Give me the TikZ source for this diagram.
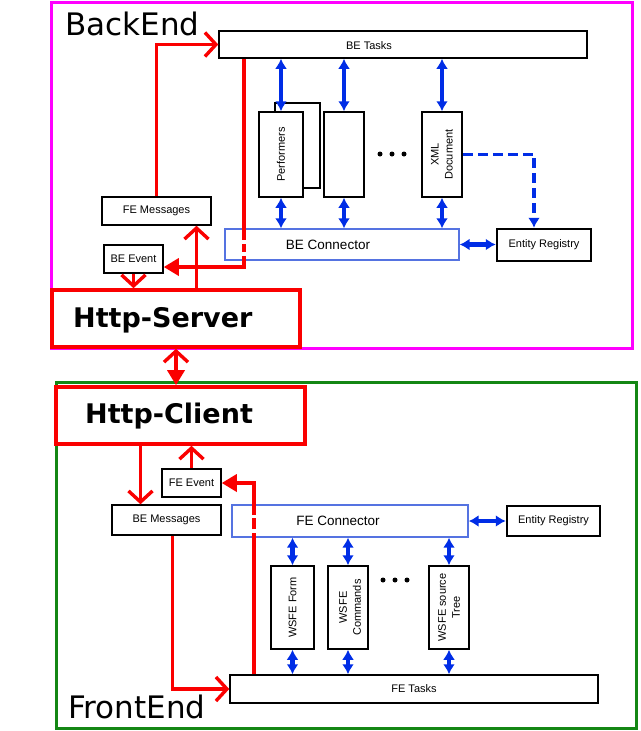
\documentclass[tikz,border=0pt]{standalone}
\usepackage{fontspec}
\setmainfont{Liberation Sans}
\newfontfamily\titlefont{DejaVu Sans}
\usetikzlibrary{arrows.meta,calc}

\definecolor{frameMagenta}{RGB}{255,0,255}
\definecolor{frameGreen}{RGB}{20,135,20}
\definecolor{linkBlue}{RGB}{0,45,230}
\definecolor{connBlue}{RGB}{85,115,225}
\definecolor{msgRed}{RGB}{250,0,0}

\begin{document}
\begin{tikzpicture}[x=1pt,y=1pt,yscale=-1,
    txt/.style={font=\fontsize{11}{14}\selectfont},
    box/.style 2 args={draw,line width=1.5,inner sep=0pt,minimum width=#1,minimum height=#2,txt},
    regbox/.style 2 args={box={#1}{#2},line width=2.5},
    connbox/.style 2 args={box={#1}{#2},draw=connBlue,line width=1.4},
    httpbox/.style 2 args={box={#1}{#2},draw=msgRed,line width=3.6},
    conntxt/.style={font=\fontsize{13.5}{16}\selectfont},
    httptxt/.style={font=\titlefont\bfseries\fontsize{27}{32}\selectfont,inner sep=0pt},
    titletxt/.style={font=\titlefont\fontsize{31}{36}\selectfont,inner sep=0pt},
    bluehead/.tip={Latex[length=10,width=12]},
    openhead/.tip={Straight Barb[length=11,width=24]},
    fullhead/.tip={Triangle[length=15,width=17]},
    blueline/.style={linkBlue,line width=4.4,bluehead-bluehead},
    redline/.style={draw=msgRed,line width=3.4}]
  \useasboundingbox (0,0) rectangle (640,731);

  %Shape: Frame BackEnd
  \draw[frameMagenta,line width=3] (51,2) rectangle (632,348);
  %Shape: Frame FrontEnd
  \draw[frameGreen,line width=3] (56,382) rectangle (636,728);

  % Text Node
  \node[titletxt,anchor=base west] (betitle) at (65,35) {BackEnd};
  \node[titletxt,anchor=base west] (fetitle) at (68,718) {FrontEnd};

  %Shape: BackEnd boxes
  \node[box={368}{27}] (betasks) at (403,44.5) {};
  \node[txt] (betaskstext) at (369,46) {BE Tasks};
  \node[box={45}{85}] (perfback) at (297.5,145.5) {};
  \node[box={44}{85},fill=white] (perf) at (281,154.5) {};
  \node[txt,rotate=90] (perftext) at (perf) {Performers};
  \node[box={40}{85}] (worker) at (344,154.5) {};
  \node[box={40}{85}] (xmldoc) at (442,154.5) {};
  \node[txt,rotate=90,align=center] (xmltext) at (xmldoc) {XML\\Document};
  \node[connbox={234}{31}] (beconn) at (342,244.5) {};
  \node[conntxt] (beconntext) at (328,245) {BE Connector};
  \node[regbox={94}{32}] (beregistry) at (544,245) {Entity Registry};
  \node[box={109}{28}] (femsg) at (156.5,211) {FE Messages};
  \node[box={59}{28}] (beevent) at (133.5,259) {BE Event};
  \node[httpbox={248}{57}] (httpsrv) at (176,318.5) {};
  \node[httptxt,anchor=base west] (httpsrvtext) at (73,327) {Http-Server};
  \foreach \dx in {380,392,404}
    \fill (\dx,154) circle (2.5);

  %Shape: FrontEnd boxes
  \node[httpbox={249}{57}] (httpcli) at (180.5,415.5) {};
  \node[httptxt,anchor=base west] (httpclitext) at (85,423) {Http-Client};
  \node[box={59}{28}] (feevent) at (191.5,483) {FE Event};
  \node[box={109}{30}] (bemsg) at (166.5,520) {BE Messages};
  \node[connbox={236}{32}] (feconn) at (350,521) {};
  \node[conntxt] (feconntext) at (338,521) {FE Connector};
  \node[regbox={93}{30}] (feregistry) at (553.5,521) {Entity Registry};
  \node[box={43}{83}] (wsfeform) at (292.5,607.5) {};
  \node[txt,rotate=90] (wsfeformtext) at (wsfeform) {WSFE Form};
  \node[box={40}{83}] (wsfecmd) at (348,607.5) {};
  \node[txt,rotate=90,align=center] (wsfecmdtext) at (350,607.5) {WSFE\\Commands};
  \node[box={40}{83}] (wsfetree) at (449,607.5) {};
  \node[txt,rotate=90,align=center] (wsfetreetext) at (wsfetree) {WSFE source\\Tree};
  \node[box={368}{28}] (fetasks) at (414,689) {FE Tasks};
  \foreach \dx in {383,395,407}
    \fill (\dx,580) circle (2.5);

  %Straight Lines: blue links BackEnd
  \draw[blueline] (perf.north |- betasks.south) -- (perf.north);
  \draw[blueline] (worker.north |- betasks.south) -- (worker.north);
  \draw[blueline] (xmldoc.north |- betasks.south) -- (xmldoc.north);
  \draw[blueline] (perf.south) -- (perf.south |- beconn.north);
  \draw[blueline] (worker.south) -- (worker.south |- beconn.north);
  \draw[blueline] (xmldoc.south) -- (xmldoc.south |- beconn.north);
  \draw[blueline] (beconn.east) -- (beconn.east -| beregistry.west);
  \draw[linkBlue,line width=3.4,dash pattern=on 10 off 5,-bluehead] (xmldoc.east) -| ($(beregistry.north)+(-10,0)$);

  %Straight Lines: blue links FrontEnd
  \draw[blueline] (feconn.south -| wsfeform.north) -- (wsfeform.north);
  \draw[blueline] (feconn.south -| wsfecmd.north) -- (wsfecmd.north);
  \draw[blueline] (feconn.south -| wsfetree.north) -- (wsfetree.north);
  \draw[blueline] (wsfeform.south) -- (wsfeform.south |- fetasks.north);
  \draw[blueline] (wsfecmd.south) -- (wsfecmd.south |- fetasks.north);
  \draw[blueline] (wsfetree.south) -- (wsfetree.south |- fetasks.north);
  \draw[blueline] (feconn.east) -- (feconn.east -| feregistry.west);

  %Straight Lines: red messages BackEnd
  \coordinate (bedown) at (244,0);
  \coordinate (femsgin) at ($(femsg.south)+(40,0)$);
  \draw[redline,-openhead] (femsg.north) |- (betasks.west);
  \draw[redline] (betasks.south -| bedown) -- (244,240) (244,244) -- (244,252);
  \draw[redline,-fullhead] (244,256) |- ($(beevent.east)+(0,8)$);
  \draw[redline,-openhead] (httpsrv.north -| femsgin) -- (femsgin);
  \draw[redline,-openhead] (beevent.south) -- (beevent.south |- httpsrv.north);
  \draw[redline,openhead-fullhead] (httpsrv.south) -- (httpsrv.south |- httpcli.north);

  %Straight Lines: red messages FrontEnd
  \coordinate (feup) at (254,0);
  \coordinate (bemsgin) at ($(bemsg.north)+(-26,0)$);
  \coordinate (bemsgout) at ($(bemsg.south)+(6,0)$);
  \draw[redline,-openhead] (httpcli.south -| bemsgin) -- (bemsgin);
  \draw[redline,-openhead] (feevent.north) -- (feevent.north |- httpcli.south);
  \draw[redline,-openhead] (bemsgout) |- (fetasks.west);
  \draw[redline] (fetasks.north -| feup) -- (254,533) (254,529) -- (254,518);
  \draw[redline,-fullhead] (254,515) |- (feevent.east);
\end{tikzpicture}
\end{document}
